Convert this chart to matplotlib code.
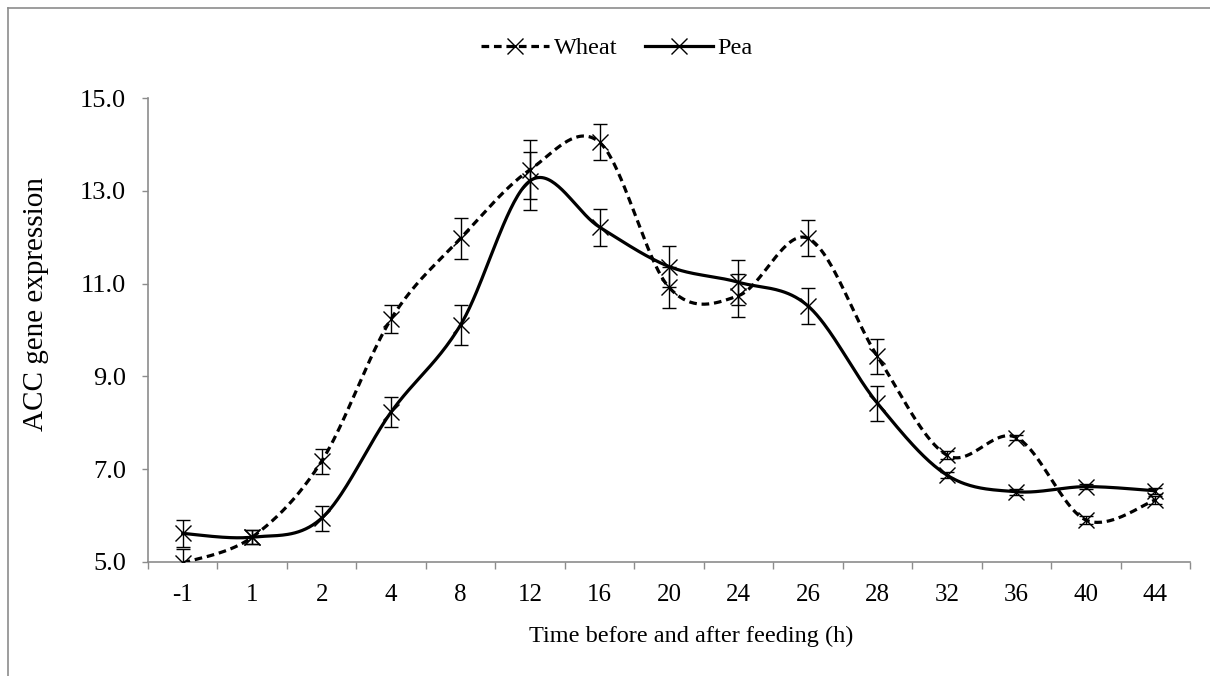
import numpy as np
import matplotlib
matplotlib.use("Agg")
import matplotlib.pyplot as plt
from matplotlib.lines import Line2D

plt.rcParams['font.family'] = ['Liberation Serif', 'DejaVu Serif']

categories = ["-1", "1", "2", "4", "8", "12", "16", "20", "24", "26", "28", "32", "36", "40", "44"]
wheat = [4.97, 5.53, 7.17, 10.24, 11.98, 13.46, 14.05, 10.92, 10.74, 11.98, 9.43, 7.30, 7.68, 5.90, 6.33]
wheat_err = [0.30, 0.15, 0.27, 0.31, 0.44, 0.63, 0.39, 0.44, 0.47, 0.39, 0.38, 0.08, 0.06, 0.08, 0.08]
pea = [5.61, 5.53, 5.94, 8.23, 10.11, 13.22, 12.22, 11.37, 11.03, 10.52, 8.42, 6.87, 6.51, 6.62, 6.53]
pea_err = [0.30, 0.15, 0.27, 0.32, 0.43, 0.63, 0.40, 0.44, 0.48, 0.38, 0.38, 0.06, 0.06, 0.06, 0.06]


def smooth(x, y, n=40):
    x = np.asarray(x, float)
    y = np.asarray(y, float)
    P = np.column_stack([x, y])
    Pe = np.vstack([P[0], P, P[-1]])
    out = []
    t = np.linspace(0, 1, n)[:, None]
    for i in range(len(P) - 1):
        p0, p1, p2, p3 = Pe[i], Pe[i + 1], Pe[i + 2], Pe[i + 3]
        c1 = p1 + (p2 - p0) / 6.0
        c2 = p2 - (p3 - p1) / 6.0
        seg = ((1 - t) ** 3) * p1 + 3 * ((1 - t) ** 2) * t * c1 + 3 * (1 - t) * t ** 2 * c2 + t ** 3 * p2
        out.append(seg if i == 0 else seg[1:])
    out = np.vstack(out)
    return out[:, 0], out[:, 1]


W, H = 1210, 676
fig = plt.figure(figsize=(W / 100, H / 100), dpi=100)
ax = fig.add_axes([148 / W, 1 - 561.7 / H, (1190 - 148) / W, (561.7 - 98.3) / H])

x = np.arange(len(categories))
lw = 2.3
dash = (0, (2.4, 1.5))

sx, sy = smooth(x, wheat)
ax.plot(sx, sy, color='black', lw=lw, linestyle=dash, zorder=3)
sx, sy = smooth(x, pea)
ax.plot(sx, sy, color='black', lw=lw, linestyle='-', zorder=3)

for vals, errs in ((wheat, wheat_err), (pea, pea_err)):
    ax.errorbar(x, vals, yerr=errs, fmt='none', ecolor='black', elinewidth=1.0,
                capsize=4.7, capthick=1.0, zorder=4)
    ax.plot(x, vals, linestyle='none', marker='x', markersize=11, markeredgewidth=1.0,
            color='black', zorder=5)

ax.set_xlim(-0.5, len(categories) - 0.5)
ax.set_ylim(5.0, 15.0)
yt = np.arange(5.0, 15.01, 2.0)
ax.set_yticks(yt)
ax.set_yticklabels([f"{v:.1f}" for v in yt])
ax.set_xticks(np.arange(-0.5, len(categories), 1.0))
ax.set_xticklabels([])
ax.set_xticks(x, minor=True)
ax.set_xticklabels(categories, minor=True)

gray = '#8c8c8c'
for s in ('top', 'right'):
    ax.spines[s].set_visible(False)
for s in ('left', 'bottom'):
    ax.spines[s].set_color(gray)
    ax.spines[s].set_linewidth(1.2)
ax.tick_params(axis='y', which='major', length=4, width=1, color=gray, labelsize=19, pad=12)
ax.tick_params(axis='x', which='major', length=5, width=1, color=gray, direction='out')
ax.tick_params(axis='x', which='minor', length=0, labelsize=18, pad=16)

fig.text(691 / W, 1 - 636 / H, "Time before and after feeding (h)", fontsize=17.5,
         ha='center', va='center')
fig.text(36 / W, 1 - 304 / H, "ACC gene expression", fontsize=21, rotation=90,
         ha='center', va='center')

handles = [
    Line2D([], [], color='black', lw=lw, linestyle=dash, marker='x', markersize=11, markeredgewidth=1.0),
    Line2D([], [], color='black', lw=lw, linestyle='-', marker='x', markersize=11, markeredgewidth=1.0),
]
fig.legend(handles, ["Wheat", "Pea"], loc='center', bbox_to_anchor=(617 / W, 1 - 48 / H), ncol=2,
           frameon=False, fontsize=17.5, handlelength=2.8, handletextpad=0.2, columnspacing=1.1,
           borderpad=0, borderaxespad=0)

# outer chart border
fig.add_artist(Line2D([7.5 / W, 7.5 / W], [1 - 7.5 / H, 0], transform=fig.transFigure, color=gray, lw=1.2))
fig.add_artist(Line2D([7.5 / W, 1], [1 - 7.5 / H, 1 - 7.5 / H], transform=fig.transFigure, color=gray, lw=1.2))

fig.savefig("out.png", dpi=100)
